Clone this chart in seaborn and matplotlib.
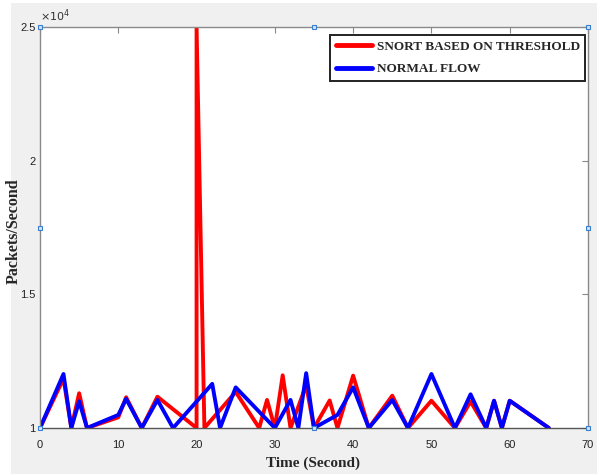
import matplotlib
matplotlib.use("Agg")
import matplotlib.pyplot as plt
from matplotlib.patches import Rectangle
import seaborn as sns
import pandas as pd

# ---- data ----
snort_x = [0, 3, 4, 5, 6, 10, 11, 13, 15, 20, 20, 21, 25, 28, 29, 30, 31, 32, 34, 35,
           37, 38, 40, 42, 45, 47, 50, 53, 55, 57, 58, 59, 60, 65]
snort_y = [10000, 11850, 10000, 11300, 10000, 10400, 11150, 10000, 11170, 10000, 25000,
           10000, 11350, 10000, 11050, 10000, 11970, 10000, 11600, 10000, 11030, 10000,
           11960, 10000, 11210, 10000, 11020, 10000, 10990, 10000, 11020, 10000, 11020, 10000]
normal_x = [0, 3, 4, 5, 6, 10, 11, 13, 15, 17, 22, 23, 25, 30, 32, 33, 34, 35, 38, 40,
            42, 45, 47, 50, 53, 55, 57, 58, 59, 60, 65]
normal_y = [10000, 12020, 10000, 11000, 10000, 10490, 11090, 10000, 11050, 10000, 11650,
            10000, 11520, 10000, 11050, 10000, 12050, 10000, 10490, 11520, 10000, 11050,
            10000, 12020, 10000, 11260, 10000, 11020, 10000, 11020, 10000]
series_names = ["SNORT BASED ON THRESHOLD", "NORMAL FLOW"]
series_colors = ["#ff0000", "#0000ff"]
x_ticks = [0, 10, 20, 30, 40, 50, 60, 70]
y_ticks = [10000, 15000, 20000, 25000]
y_tick_labels = ["1", "1.5", "2", "2.5"]

df = pd.concat([
    pd.DataFrame({"t": snort_x, "v": snort_y, "s": series_names[0]}),
    pd.DataFrame({"t": normal_x, "v": normal_y, "s": series_names[1]}),
], ignore_index=True)

sns.set_style("white")
plt.rcParams["font.family"] = ["Liberation Sans", "DejaVu Sans"]

W, H = 597, 474
fig = plt.figure(figsize=(W / 100, H / 100), dpi=100, facecolor="#f0f0f0")
# white edges on left / top as in the reference
fig.add_artist(Rectangle((0, 0), 11 / W, 1, transform=fig.transFigure,
                         facecolor="white", edgecolor="none", zorder=-10))
fig.add_artist(Rectangle((0, 1 - 3 / H), 1, 3 / H, transform=fig.transFigure,
                         facecolor="white", edgecolor="none", zorder=-10))

L, R, T, B = 40, 588, 27, 428
ax = fig.add_axes([L / W, 1 - B / H, (R - L) / W, (B - T) / H])
ax.set_facecolor("white")

sns.lineplot(data=df, x="t", y="v", hue="s", hue_order=series_names,
             palette=dict(zip(series_names, series_colors)),
             estimator=None, sort=False, linewidth=2.8, ax=ax)

ax.set_xlim(0, 70)
ax.set_ylim(10000, 25000)
ax.set_xticks(x_ticks)
ax.set_xticklabels([str(v) for v in x_ticks])
ax.set_yticks(y_ticks)
ax.set_yticklabels(y_tick_labels)
ax.tick_params(axis="both", direction="in", length=4, width=0.8, color="#888888",
               labelsize=8, labelcolor="#222222", top=True, right=True)
ax.tick_params(axis="x", pad=9)
ax.tick_params(axis="y", pad=3)
for sp in ax.spines.values():
    sp.set_color("#8a8a8a")
    sp.set_linewidth(1.0)
    sp.set_visible(True)
ax.spines["bottom"].set_color("#555555")

ax.text(0.0, 1.008, r"$\times10^4$", transform=ax.transAxes, fontsize=8,
        ha="left", va="bottom", color="#333333")

ax.set_xlabel("Time (Second)", fontfamily="Liberation Serif", fontweight="bold",
              fontsize=11)
ax.xaxis.set_label_coords(0.498, -0.07)
ax.set_ylabel("Packets/Second", fontfamily="Liberation Serif", fontweight="bold",
              fontsize=11.5)
ax.yaxis.set_label_coords(-0.033, 0.49)

leg = ax.legend(loc="upper right", bbox_to_anchor=(0.9945, 0.980), borderaxespad=0,
                frameon=True, fancybox=False, framealpha=1, edgecolor="#222222",
                prop={"family": "Liberation Serif", "weight": "bold", "size": 9.5},
                handlelength=2.75, handletextpad=0.35, labelspacing=0.8,
                borderpad=0.4, title=None)
leg.get_frame().set_linewidth(1.4)
for ln in leg.get_lines():
    ln.set_linewidth(3.5)

# MATLAB-style selection handles
for hx in (0, 0.5, 1):
    for hy in (0, 0.5, 1):
        if hx == 0.5 and hy == 0.5:
            continue
        ax.plot([hx], [hy], marker="s", markersize=3.5, markerfacecolor="#cfe3f7",
                markeredgecolor="#3a7fd0", markeredgewidth=0.8,
                transform=ax.transAxes, clip_on=False, zorder=10)

fig.savefig("out.png", dpi=100, facecolor=fig.get_facecolor())
